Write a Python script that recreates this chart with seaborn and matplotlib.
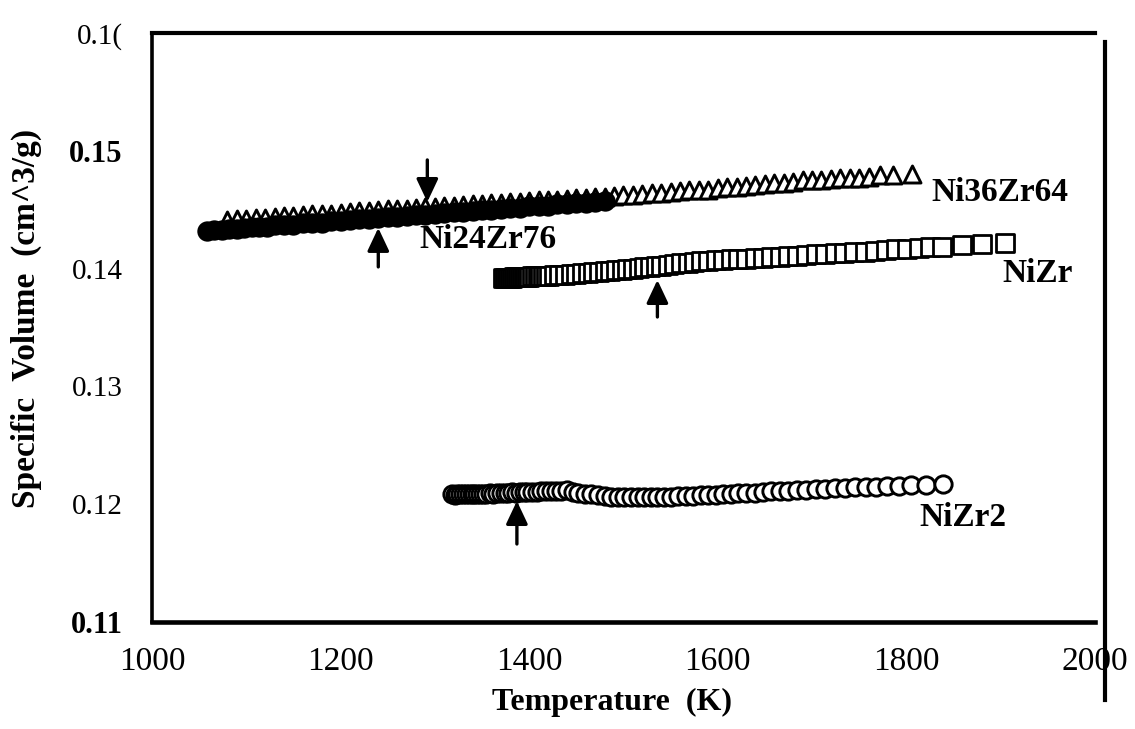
import numpy as np
import pandas as pd
import matplotlib
matplotlib.use("Agg")
import matplotlib.pyplot as plt
import seaborn as sns

# ---------------------------------------------------------------
# Data (temperature K, volume cm^3/g)
# ---------------------------------------------------------------
ni24_T = [1058, 1066, 1074, 1082, 1090, 1098, 1106, 1114, 1122, 1130, 1140, 1150,
          1160, 1170, 1180, 1190, 1200, 1210, 1220, 1230, 1240, 1250, 1260, 1270,
          1280, 1290, 1300, 1310, 1320, 1330, 1340, 1350, 1360, 1370, 1380, 1390,
          1400, 1410, 1420, 1430, 1440, 1450, 1460, 1470, 1480]
ni24_V = [0.14319, 0.14326, 0.14327, 0.14336, 0.14338, 0.14341, 0.14350, 0.14353,
          0.14355, 0.14366, 0.14368, 0.14371, 0.14383, 0.14386, 0.14390, 0.14401,
          0.14404, 0.14408, 0.14419, 0.14422, 0.14426, 0.14437, 0.14440, 0.14444,
          0.14455, 0.14458, 0.14462, 0.14473, 0.14476, 0.14480, 0.14491, 0.14494,
          0.14498, 0.14509, 0.14512, 0.14516, 0.14527, 0.14530, 0.14534, 0.14545,
          0.14548, 0.14554, 0.14560, 0.14564, 0.14570]

ni36_T = [1080, 1090, 1100, 1110, 1120, 1130, 1140, 1150, 1160, 1170, 1180, 1190,
          1200, 1210, 1220, 1230, 1240, 1250, 1260, 1270, 1280, 1290, 1300, 1310,
          1320, 1330, 1340, 1350, 1360, 1370, 1380, 1390, 1400, 1410, 1420, 1430,
          1440, 1450, 1460, 1470, 1480, 1490, 1500, 1510, 1520, 1530, 1540, 1550,
          1560, 1570, 1580, 1590, 1600, 1610, 1620, 1630, 1640, 1650, 1660, 1670,
          1680, 1690, 1700, 1710, 1720, 1730, 1740, 1750, 1760, 1772, 1786, 1806]
ni36_V = [0.14411, 0.14418, 0.14422, 0.14425, 0.14432, 0.14440, 0.14443, 0.14446,
          0.14453, 0.14461, 0.14464, 0.14467, 0.14475, 0.14482, 0.14485, 0.14489,
          0.14496, 0.14503, 0.14506, 0.14508, 0.14515, 0.14522, 0.14525, 0.14527,
          0.14534, 0.14541, 0.14544, 0.14546, 0.14553, 0.14560, 0.14563, 0.14565,
          0.14572, 0.14579, 0.14582, 0.14584, 0.14591, 0.14598, 0.14601, 0.14604,
          0.14611, 0.14619, 0.14622, 0.14624, 0.14633, 0.14642, 0.14644, 0.14647,
          0.14655, 0.14664, 0.14666, 0.14671, 0.14681, 0.14691, 0.14695, 0.14700,
          0.14710, 0.14720, 0.14724, 0.14729, 0.14739, 0.14748, 0.14750, 0.14752,
          0.14760, 0.14768, 0.14770, 0.14772, 0.14780, 0.14790, 0.14791, 0.14803]

nizr_T = [1372, 1374, 1376, 1378, 1380, 1382, 1384, 1386, 1388, 1390, 1392, 1394,
          1396, 1398, 1400, 1403, 1406, 1409, 1412, 1415, 1418, 1421, 1426, 1432,
          1438, 1444, 1450, 1456, 1462, 1468, 1474, 1480, 1486, 1492, 1498, 1504,
          1510, 1516, 1522, 1528, 1534, 1540, 1547, 1554, 1561, 1568, 1575, 1582,
          1590, 1598, 1606, 1614, 1622, 1630, 1639, 1648, 1657, 1666, 1675, 1684,
          1694, 1704, 1714, 1724, 1734, 1745, 1756, 1767, 1778, 1789, 1801, 1813,
          1825, 1838, 1859, 1880, 1905]
nizr_V = [0.13920, 0.13920, 0.13921, 0.13922, 0.13923, 0.13924, 0.13925, 0.13926,
          0.13927, 0.13928, 0.13929, 0.13929, 0.13930, 0.13931, 0.13932, 0.13933,
          0.13934, 0.13935, 0.13937, 0.13938, 0.13939, 0.13940, 0.13943, 0.13945,
          0.13949, 0.13953, 0.13957, 0.13961, 0.13965, 0.13969, 0.13973, 0.13977,
          0.13981, 0.13985, 0.13990, 0.13995, 0.14000, 0.14005, 0.14010, 0.14015,
          0.14020, 0.14025, 0.14031, 0.14037, 0.14043, 0.14049, 0.14055, 0.14061,
          0.14065, 0.14069, 0.14073, 0.14077, 0.14081, 0.14084, 0.14089, 0.14093,
          0.14097, 0.14102, 0.14106, 0.14110, 0.14115, 0.14120, 0.14124, 0.14129,
          0.14134, 0.14139, 0.14144, 0.14150, 0.14156, 0.14162, 0.14168, 0.14174,
          0.14181, 0.14187, 0.14199, 0.14208, 0.14217]

nizr2_T = [1318, 1321, 1324, 1327, 1330, 1333, 1336, 1339, 1342, 1345, 1348, 1351,
           1354, 1358, 1362, 1366, 1370, 1374, 1378, 1382, 1386, 1390, 1394, 1398,
           1403, 1408, 1413, 1418, 1423, 1428, 1434, 1440, 1446, 1452, 1459, 1466,
           1473, 1480, 1487, 1494, 1501, 1508, 1515, 1522, 1529, 1536, 1543, 1550,
           1558, 1566, 1574, 1582, 1590, 1598, 1606, 1614, 1622, 1630, 1639, 1648,
           1657, 1666, 1675, 1684, 1694, 1704, 1714, 1724, 1735, 1746, 1757, 1768,
           1780, 1792, 1805, 1821, 1839]
nizr2_V = [0.12085, 0.12082, 0.12086, 0.12084, 0.12088, 0.12085, 0.12083, 0.12087,
           0.12085, 0.12089, 0.12086, 0.12090, 0.12089, 0.12092, 0.12089, 0.12094,
           0.12096, 0.12093, 0.12098, 0.12101, 0.12099, 0.12104, 0.12102, 0.12106,
           0.12107, 0.12105, 0.12110, 0.12108, 0.12113, 0.12110, 0.12114, 0.12118,
           0.12106, 0.12095, 0.12085, 0.12088, 0.12076, 0.12068, 0.12064, 0.12061,
           0.12059, 0.12060, 0.12058, 0.12060, 0.12059, 0.12061, 0.12063, 0.12062,
           0.12066, 0.12068, 0.12072, 0.12075, 0.12078, 0.12082, 0.12085, 0.12088,
           0.12092, 0.12095, 0.12099, 0.12104, 0.12108, 0.12112, 0.12116, 0.12121,
           0.12124, 0.12128, 0.12131, 0.12135, 0.12138, 0.12142, 0.12146, 0.12150,
           0.12153, 0.12157, 0.12162, 0.12167, 0.12171]

# arrows marking the liquidus temperatures: (T, tail volume, tip volume)
arrow_T = [1240, 1292, 1536, 1387]
arrow_tail = [0.14014, 0.14922, 0.13589, 0.11662]
arrow_tip = [0.14345, 0.14565, 0.13903, 0.12027]

# series labels: text, T, volume
label_text = ["Ni36Zr64", "Ni24Zr76", "NiZr", "NiZr2"]
label_T = [1827, 1284, 1902, 1814]
label_V = [0.14642, 0.14243, 0.13954, 0.11883]

x_ticks = [1000, 1200, 1400, 1600, 1800, 2000]
y_ticks = [0.11, 0.12, 0.13, 0.14, 0.15, 0.16]
y_tick_labels = ["0.11", "0.12", "0.13", "0.14", "0.15", "0.1("]

# ---------------------------------------------------------------
sns.set_theme(style="white")
plt.rcParams["font.family"] = ["Liberation Serif", "DejaVu Serif"]

fig = plt.figure(figsize=(11.35, 7.29), dpi=100)
ax = fig.add_axes([0.1339, 0.1468, 0.8308, 0.8080])

sns.scatterplot(x=ni36_T, y=ni36_V, marker="^", s=150, color="white",
                edgecolor="black", linewidth=2.1, ax=ax, zorder=2)
sns.scatterplot(x=ni24_T, y=ni24_V, marker="o", s=215, color="black",
                edgecolor="black", linewidth=0, ax=ax, zorder=3)
sns.scatterplot(x=nizr_T, y=nizr_V, marker="s", s=150, color="white",
                edgecolor="black", linewidth=2.0, ax=ax, zorder=3)
sns.scatterplot(x=nizr2_T, y=nizr2_V, marker="o", s=155, color="white",
                edgecolor="black", linewidth=2.1, ax=ax, zorder=3)

for t, a, b in zip(arrow_T, arrow_tail, arrow_tip):
    ax.annotate("", xy=(t, b), xytext=(t, a),
                arrowprops=dict(arrowstyle="-|>,head_length=0.7,head_width=0.33",
                                lw=2.4, color="black", shrinkA=0, shrinkB=0,
                                mutation_scale=20), zorder=4)

for txt, t, v in zip(label_text, label_T, label_V):
    ax.text(t, v, txt, fontsize=24, fontweight="bold", ha="left", va="center",
            color="black")

ax.set_xlim(1000, 2000)
ax.set_ylim(0.11, 0.16)
ax.set_xticks(x_ticks)
ax.set_xticklabels([str(v) for v in x_ticks])
ax.set_yticks(y_ticks)
ax.set_yticklabels(y_tick_labels)

ax.tick_params(axis="x", direction="out", length=7, width=2, pad=11,
               labelsize=24, colors="black")
ax.tick_params(axis="y", direction="out", length=5, width=2, pad=16,
               labelsize=21, colors="black")

ax.set_xlabel("Temperature  (K)", fontsize=23, fontweight="bold", color="black")
ax.set_ylabel("Specific  Volume  (cm^3/g)", fontsize=24, fontweight="bold",
              color="black")
ax.xaxis.set_label_coords(0.488, -0.112)
ax.yaxis.set_label_coords(-0.117, 0.515)

for side, lw in [("bottom", 3.3), ("left", 2.6), ("top", 3.0), ("right", 3.0)]:
    ax.spines[side].set_visible(True)
    ax.spines[side].set_color("black")
    ax.spines[side].set_linewidth(lw)
ax.spines["right"].set_position(("outward", 7))
ax.spines["right"].set_bounds(0.1034, 0.1592)

ax.grid(False)
ax.set_facecolor("white")

# the scan shows 0.11 and 0.15 heavier than the other tick labels
fig.canvas.draw()
for tick in ax.yaxis.get_major_ticks():
    if tick.label1.get_text() in ("0.11", "0.15"):
        tick.label1.set_fontweight("bold")
        tick.label1.set_fontsize(22)

fig.savefig("out.png", dpi=100, facecolor="white")
plt.close(fig)
